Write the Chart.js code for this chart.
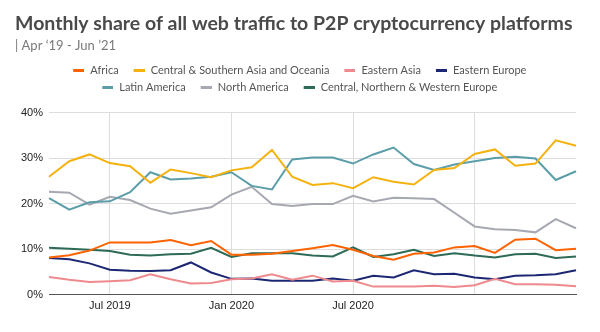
<!DOCTYPE html>
<html>
<head>
<meta charset="utf-8">
<script src="https://cdn.jsdelivr.net/npm/chart.js@4.4.1/dist/chart.umd.min.js"></script>
<style>
html,body{margin:0;padding:0;background:#fff;}
#wrap{width:600px;height:332px;position:relative;}
</style>
</head>
<body>
<div id="wrap"><canvas id="c"></canvas></div>
<script>
// ---- data ----
const months = ['Apr 2019','May 2019','Jun 2019','Jul 2019','Aug 2019','Sep 2019','Oct 2019','Nov 2019','Dec 2019',
  'Jan 2020','Feb 2020','Mar 2020','Apr 2020','May 2020','Jun 2020','Jul 2020','Aug 2020','Sep 2020','Oct 2020','Nov 2020','Dec 2020',
  'Jan 2021','Feb 2021','Mar 2021','Apr 2021','May 2021','Jun 2021'];
const tickLabels = ['Jul 2019','Jan 2020','Jul 2020'];
const gridMonths = ['Jul 2019','Jan 2020','Jul 2020','Jan 2021'];
const yTicks = [0, 10, 20, 30, 40];

const africa = [8.2,8.7,9.7,11.5,11.5,11.5,12.0,10.9,11.8,8.8,8.8,9.0,9.6,10.2,10.9,9.9,8.5,7.7,9.0,9.3,10.4,10.7,9.2,12.1,12.3,9.8,10.1];
const centralSouthernAsiaOceania = [25.9,29.3,30.8,28.9,28.2,24.6,27.5,26.7,25.8,27.3,28.0,31.8,25.9,24.1,24.5,23.4,25.8,24.8,24.2,27.4,27.8,30.9,31.9,28.3,28.8,33.9,32.7];
const easternAsia = [3.9,3.3,2.8,3.0,3.2,4.5,3.4,2.5,2.6,3.4,3.6,4.5,3.3,4.2,2.9,3.1,1.8,1.8,1.8,2.0,1.7,2.1,3.5,2.3,2.3,2.2,1.9];
const easternEurope = [8.1,7.8,6.9,5.5,5.3,5.2,5.4,7.1,4.9,3.5,3.6,3.1,3.1,3.1,3.6,3.1,4.2,3.8,5.4,4.5,4.6,3.8,3.4,4.2,4.3,4.5,5.4];
const latinAmerica = [21.2,18.7,20.3,20.5,22.5,26.9,25.3,25.5,25.9,26.9,23.9,23.1,29.7,30.1,30.1,28.8,30.8,32.3,28.7,27.4,28.6,29.3,30.0,30.3,29.9,25.2,27.1];
const northAmerica = [22.6,22.4,19.8,21.5,20.8,18.9,17.8,18.5,19.2,22.0,23.7,19.9,19.5,19.9,19.9,21.7,20.5,21.3,21.2,21.0,18.0,15.0,14.4,14.2,13.7,16.6,14.6];
const centralNorthernWesternEurope = [10.3,10.1,9.9,9.6,8.8,8.6,8.9,9.0,10.3,8.3,9.1,9.1,9.1,8.6,8.4,10.4,8.3,8.9,9.9,8.5,9.1,8.6,8.2,8.9,9.0,8.1,8.4];

// ---- styling ----
const datasets = [
  {label:'Africa', data:africa, borderColor:'#FF6200'},
  {label:'Central & Southern Asia and Oceania', data:centralSouthernAsiaOceania, borderColor:'#F5B20F'},
  {label:'Eastern Asia', data:easternAsia, borderColor:'#EE8A8E'},
  {label:'Eastern Europe', data:easternEurope, borderColor:'#1C2774'},
  {label:'Latin America', data:latinAmerica, borderColor:'#5B9EAA'},
  {label:'North America', data:northAmerica, borderColor:'#A6A8B2'},
  {label:'Central, Northern & Western Europe', data:centralNorthernWesternEurope, borderColor:'#2E6B56'}
].map(d => Object.assign(d, {backgroundColor:d.borderColor, borderWidth:2, pointRadius:0, pointHoverRadius:0, tension:0, fill:false, xAxisID:'x', yAxisID:'y'}));

function legendMark(color){
  const c = document.createElement('canvas');
  c.width = 19; c.height = 3;
  const g = c.getContext('2d');
  g.fillStyle = color;
  g.fillRect(8, 0, 11, 3);
  return c;
}
const marks = datasets.map(d => legendMark(d.borderColor));

new Chart(document.getElementById('c'), {
  type:'line',
  data:{labels:months, datasets},
  options:{
    responsive:true,
    maintainAspectRatio:false,
    animation:false,
    events:[],
    layout:{padding:{left:15,right:24,top:0,bottom:14}},
    plugins:{
      title:{
        display:true, align:'start',
        text:'Monthly share of all web traffic to P2P cryptocurrency platforms',
        color:'#4a4a4a',
        font:{family:'Lato', size:19.5, weight:'bold'},
        padding:{top:11.6,bottom:0}
      },
      subtitle:{
        display:true, align:'start',
        text:'| Apr \u201819 - Jun \u201921',
        color:'#7a7a7a',
        font:{family:'Lato', size:13, weight:'normal'},
        padding:{top:2.9,bottom:4.9}
      },
      legend:{
        display:true, position:'top', align:'center',
        labels:{
          usePointStyle:true, pointStyleWidth:20.1,
          padding:6.4, color:'#555',
          font:{family:'Lato', size:11},
          generateLabels(chart){
            const items = Chart.defaults.plugins.legend.labels.generateLabels(chart);
            items.forEach(it => { it.pointStyle = marks[it.datasetIndex]; });
            return items;
          }
        }
      },
      tooltip:{enabled:false}
    },
    scales:{
      x:{
        type:'category',
        position:'bottom',
        offset:false,
        grid:{
          drawTicks:false,
          color:(ctx) => (ctx.tick && gridMonths.includes(months[ctx.index])) ? '#dddddd' : 'rgba(0,0,0,0)',
          lineWidth:1
        },
        border:{display:true, color:'#555', width:1},
        ticks:{
          autoSkip:false, maxRotation:0, padding:5,
          color:'#222', font:{family:'Liberation Sans', size:11},
          callback:(v,i) => tickLabels.includes(months[i]) ? months[i] : ''
        }
      },
      xSpacer:{
        type:'category',
        position:'top',
        offset:false,
        grid:{display:false, drawTicks:false},
        border:{display:false},
        ticks:{display:false},
        afterFit(scale){ scale.height = 9.3; }
      },
      y:{
        min:0, max:40,
        afterBuildTicks(scale){ scale.ticks = yTicks.map(v => ({value:v})); },
        grid:{drawTicks:false, color:'#dddddd', lineWidth:1},
        border:{display:false},
        ticks:{
          padding:6, color:'#222', font:{family:'Liberation Sans', size:11},
          callback:(v) => v + '%'
        }
      }
    }
  }
});
</script>
</body>
</html>
